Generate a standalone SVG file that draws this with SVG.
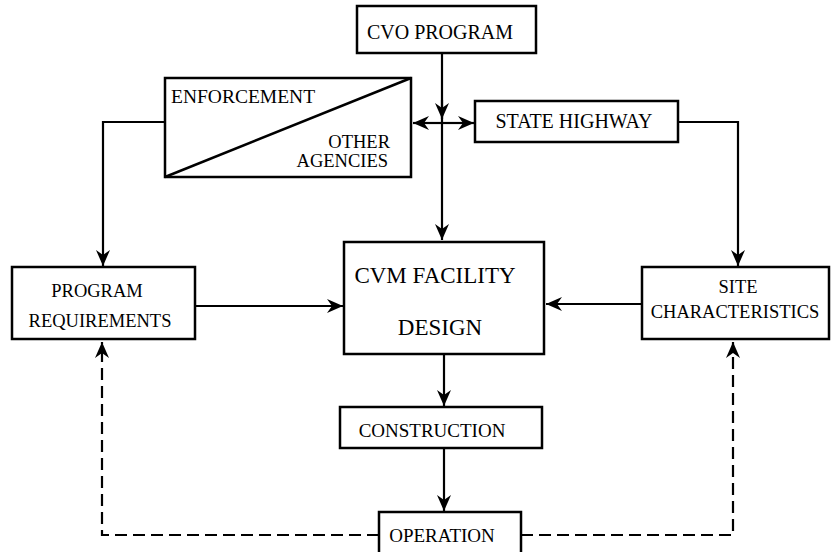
<svg xmlns="http://www.w3.org/2000/svg" width="831" height="552" viewBox="0 0 831 552">
<defs>
<marker id="ah" markerUnits="userSpaceOnUse" markerWidth="18" markerHeight="14" refX="16" refY="7" orient="auto">
<path d="M0,0 L16,7 L0,14 L5,7 z" fill="#000"/>
</marker>
<style>
.box{fill:#fff;stroke:#000;stroke-width:2.5}
.t{font-family:"Liberation Serif","Times New Roman",serif;fill:#000;text-anchor:middle}
.c{fill:none;stroke:#000;stroke-width:2.2}
.d{fill:none;stroke:#000;stroke-width:2.2;stroke-dasharray:12 6}
</style>
</defs>
<rect width="831" height="552" fill="#fff"/>
<g id="connectors">
<path class="c" d="M442,53 V240" marker-end="url(#ah)"/>
<path class="c" d="M442,100 V119" marker-end="url(#ah)"/>
<path class="c" d="M442,123 H413" marker-end="url(#ah)"/>
<path class="c" d="M442,123 H474" marker-end="url(#ah)"/>
<path class="c" d="M165,122 H103 V266" marker-end="url(#ah)"/>
<path class="c" d="M678,122 H738 V266" marker-end="url(#ah)"/>
<path class="c" d="M195,306 H343" marker-end="url(#ah)"/>
<path class="c" d="M642,304 H546" marker-end="url(#ah)"/>
<path class="c" d="M444,354 V406" marker-end="url(#ah)"/>
<path class="c" d="M444,448 V511" marker-end="url(#ah)"/>
<path class="d" d="M379,535 H102 V342" marker-end="url(#ah)"/>
<path class="d" d="M521,535 H733 V342" marker-end="url(#ah)"/>
</g>
<g id="cvo-program">
<rect class="box" x="357" y="6" width="179" height="47"/>
<text class="t" x="440" y="39" font-size="20">CVO PROGRAM</text>
</g>
<g id="enforcement-other-agencies">
<rect class="box" x="165" y="78" width="246" height="99"/>
<line x1="165" y1="177" x2="411" y2="78" stroke="#000" stroke-width="2.5"/>
<text class="t" x="171" y="103" font-size="19.5" text-anchor="start" style="text-anchor:start">ENFORCEMENT</text>
<text class="t" x="390" y="148" font-size="18.5" style="text-anchor:end">OTHER</text>
<text class="t" x="388" y="167" font-size="18.5" style="text-anchor:end">AGENCIES</text>
</g>
<g id="state-highway">
<rect class="box" x="475" y="101" width="203" height="41"/>
<text class="t" x="574" y="128" font-size="20">STATE HIGHWAY</text>
</g>
<g id="program-requirements">
<rect class="box" x="12" y="267" width="183" height="72"/>
<text class="t" x="97" y="297" font-size="18.5">PROGRAM</text>
<text class="t" x="100" y="327" font-size="18.5">REQUIREMENTS</text>
</g>
<g id="cvm-facility-design">
<rect class="box" x="344" y="242" width="200" height="112"/>
<text class="t" x="435" y="283" font-size="23">CVM FACILITY</text>
<text class="t" x="440" y="335" font-size="23">DESIGN</text>
</g>
<g id="site-characteristics">
<rect class="box" x="642" y="267" width="187" height="72"/>
<text class="t" x="738" y="293" font-size="18.5">SITE</text>
<text class="t" x="735" y="318" font-size="18.5">CHARACTERISTICS</text>
</g>
<g id="construction">
<rect class="box" x="340" y="407" width="202" height="41"/>
<text class="t" x="432" y="437" font-size="19">CONSTRUCTION</text>
</g>
<g id="operation">
<rect class="box" x="379" y="512" width="142" height="50"/>
<text class="t" x="442" y="542" font-size="19">OPERATION</text>
</g>
</svg>
